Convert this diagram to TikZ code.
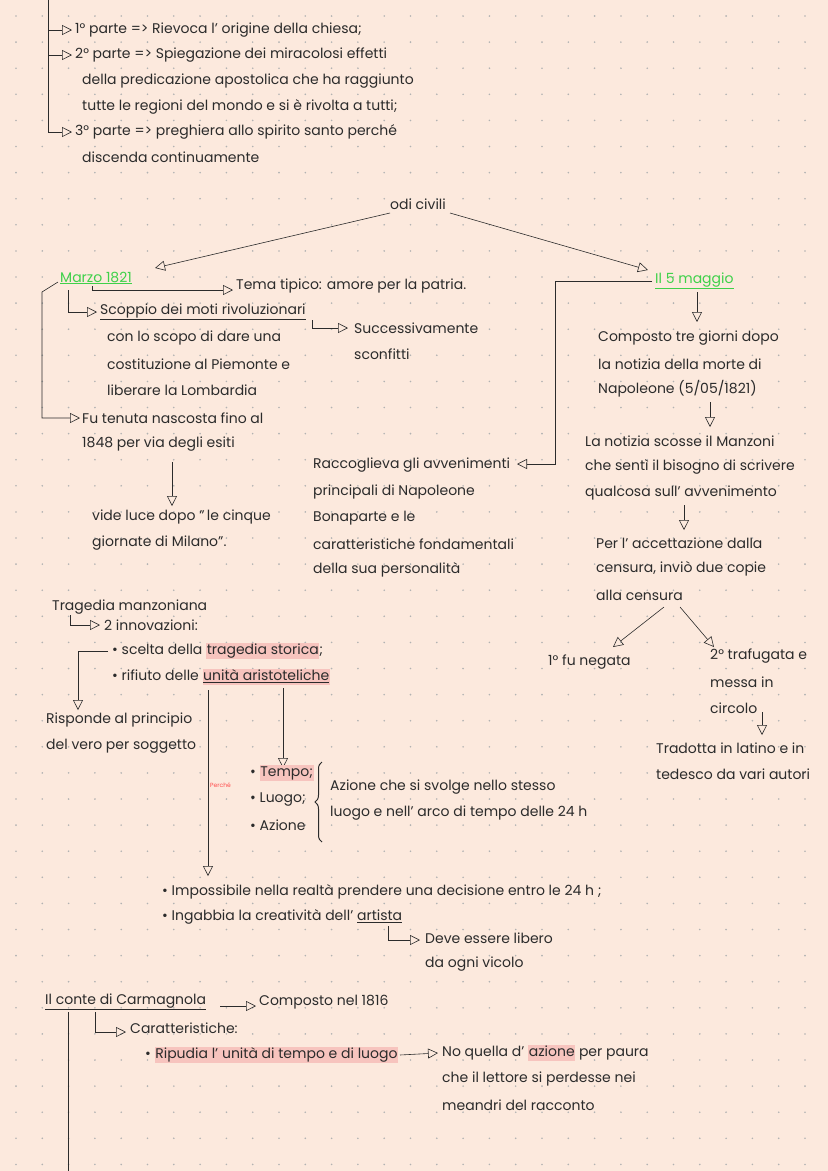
\documentclass[tikz,border=0pt]{standalone}
\usepackage{fontspec}
\setmainfont{Poppins}
\usetikzlibrary{arrows.meta,decorations.pathreplacing}
\definecolor{bg}{HTML}{FCE9DD}
\definecolor{ink}{HTML}{2B2B2B}
\definecolor{grn}{HTML}{3FD14A}
\definecolor{hlc}{HTML}{F7C4BE}
\newcommand{\hlt}[1]{{\setlength{\fboxsep}{0.6pt}\colorbox{hlc}{\strut #1}}}
\tikzset{
 txt/.style={anchor=west,inner sep=0pt,text=ink,font=\fontsize{14}{15}\selectfont},
 gtxt/.style={txt,text=grn},
 ln/.style={draw=ink,line width=0.6pt},
 arr/.style={ln,-{Triangle[open,length=10pt,width=10pt]}}
}
\begin{document}
\begin{tikzpicture}[x=1pt,y=-1pt]
\fill[bg] (0,0) rectangle (828,1171);
\useasboundingbox (0,0) rectangle (828,1171);
\foreach \i in {0,...,31}{\foreach \j in {0,...,44}{\fill[gray!60] (16+26.3*\i,16+26.1*\j) circle (0.9);}}
% top
\draw[ln] (48,0) -- (48,132);
\draw[arr] (48,30) -- (72,30);
\draw[arr] (48,55) -- (72,55);
\draw[arr] (48,132) -- (72,132);
\node[txt] (p1) at (75,30) {1° parte => Rievoca l' origine della chiesa;};
\node[txt] (p2) at (75,55) {2° parte => Spiegazione dei miracolosi effetti};
\node[txt] at (82,81) {della predicazione apostolica che ha raggiunto};
\node[txt] at (82,107) {tutte le regioni del mondo e si è rivolta a tutti;};
\node[txt] (p3) at (75,132) {3° parte => preghiera allo spirito santo perché};
\node[txt] at (82,157) {discenda continuamente};
% odi civili
\node[txt,anchor=center] (odi) at (418,204) {odi civili};
\draw[arr] (390,213) -- (155,268);
\draw[arr] (450,213) -- (648,270);
\node[gtxt] (marzo) at (60,278) {\underline{Marzo 1821}};
\node[gtxt] (maggio) at (655,281) {\underline{Il 5 maggio}};
% Marzo branch
\draw[arr] (92,286) -- (92,290) -- (233,290);
\node[txt] (tema) at (236,286) {Tema tipico: amore per la patria.};
\draw[arr] (68,290) -- (68,312) -- (97,312);
\node[txt] (moti) at (100,312) {\underline{Scoppio dei moti rivoluzionari}};
\node[txt] at (107,338) {con lo scopo di dare una};
\node[txt] at (107,364) {costituzione al Piemonte e};
\node[txt] at (107,390) {liberare la Lombardia};
\draw[arr] (312,320) -- (312,328) -- (348,328);
\node[txt] (succ) at (354,328) {Successivamente};
\node[txt] at (354,354) {sconfitti};
\draw[arr] (58,282) -- (42,292) -- (42,418) -- (80,418);
\node[txt] (fu) at (82,418) {Fu tenuta nascosta fino al};
\node[txt] at (82,444) {1848 per via degli esiti};
\draw[arr] (172,462) -- (172,506);
\node[txt] (vide) at (92,517) {vide luce dopo "\,le cinque};
\node[txt] at (92,543) {giornate di Milano".};
% 5 maggio branch
\draw[arr] (652,281) -- (555,281) -- (555,464) -- (517,464);
\node[txt] (racc) at (313,465) {Raccoglieva gli avvenimenti};
\node[txt] at (313,492) {principali di Napoleone};
\node[txt] at (313,518) {Bonaparte e le};
\node[txt] at (313,544) {caratteristiche fondamentali};
\node[txt] at (313,570) {della sua personalità};
\draw[arr] (697,292) -- (697,322);
\node[txt] (comp) at (598,338) {Composto tre giorni dopo};
\node[txt] at (598,364) {la notizia della morte di};
\node[txt] at (598,389) {Napoleone (5/05/1821)};
\draw[arr] (710,402) -- (710,427);
\node[txt] (noti) at (585,441) {La notizia scosse il Manzoni};
\node[txt] at (585,467) {che sentì il bisogno di scrivere};
\node[txt] at (585,493) {qualcosa sull' avvenimento};
\draw[arr] (684,505) -- (684,530);
\node[txt] (acc) at (596,543) {Per l' accettazione dalla};
\node[txt] at (596,569) {censura, inviò due copie};
\node[txt] at (596,595) {alla censura};
\draw[arr] (664,607) -- (613,647);
\draw[arr] (680,607) -- (714,647);
\node[txt] (neg) at (548,662) {1° fu negata};
\node[txt] (traf) at (710,656) {2° trafugata e};
\node[txt] at (710,682) {messa in};
\node[txt] at (710,708) {circolo};
\draw[arr] (762,712) -- (762,735);
\node[txt] (trad) at (656,748) {Tradotta in latino e in};
\node[txt] at (656,774) {tedesco da vari autori};
% Tragedia
\node[txt] (trag) at (52,607) {Tragedia manzoniana};
\draw[arr] (70,615) -- (70,625) -- (100,625);
\node[txt] (inn) at (104,625) {2 innovazioni:};
\node[txt] (s1) at (112,651) {• scelta della \hlt{tragedia storica};};
\node[txt] (s2) at (112,677) {• rifiuto delle \hlt{\underline{unità aristoteliche}}};
\draw[arr] (108,651) -- (78,651) -- (78,710);
\node[txt] (risp) at (46,720) {Risponde al principio};
\node[txt] at (46,746) {del vero per soggetto};
\draw[arr] (283,688) -- (283,768);
\node[txt] (tempo) at (250,773) {• \hlt{Tempo;}};
\node[txt] at (250,799) {• Luogo;};
\node[txt] at (250,825) {• Azione};
\draw[ln,line width=1pt,decorate,decoration={brace,amplitude=7pt,mirror}] (322,762) -- (322,842);
\node[txt] (az) at (330,787) {Azione che si svolge nello stesso};
\node[txt] at (330,813) {luogo e nell' arco di tempo delle 24 h};
\node[txt,text=red!70,font=\fontsize{6}{7}\selectfont] (perc) at (210,785) {Perché};
\draw[arr] (208,690) -- (208,876);
\node[txt] (imp) at (162,892) {• Impossibile nella realtà prendere una decisione entro le 24 h ;};
\node[txt] (ing) at (162,917) {• Ingabbia la creatività dell' \underline{artista}};
\draw[arr] (388,926) -- (388,940) -- (420,940);
\node[txt] (deve) at (425,938) {Deve essere libero};
\node[txt] at (425,964) {da ogni vicolo};
% Carmagnola
\node[txt] (carm) at (45,1002) {\underline{Il conte di Carmagnola}};
\draw[arr] (220,1006) -- (256,1006);
\node[txt] (c1816) at (259,1002) {Composto nel 1816};
\draw[arr] (95,1012) -- (95,1032) -- (126,1032);
\node[txt] (car) at (130,1028) {Caratteristiche:};
\node[txt] (rip) at (145,1055) {• \hlt{Ripudia l' unità di tempo e di luogo}};
\draw[arr] (400,1055) -- (438,1053);
\node[txt] (noq) at (442,1053) {No quella d' \hlt{azione} per paura};
\node[txt] at (442,1079) {che il lettore si perdesse nei};
\node[txt] at (442,1105) {meandri del racconto};
\draw[ln] (68,1012) -- (68,1171);
\end{tikzpicture}
\end{document}
